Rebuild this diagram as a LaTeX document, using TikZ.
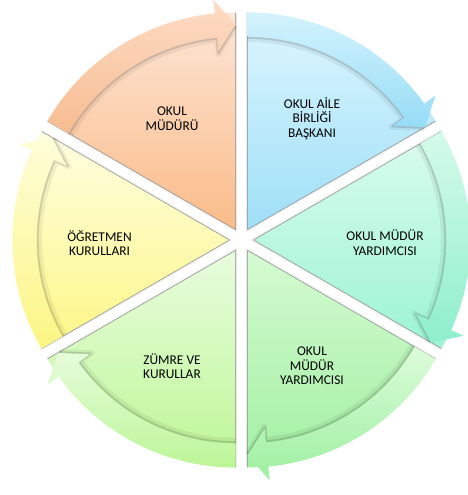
\documentclass[tikz,border=0pt]{standalone}
\usepackage{fontspec}
\setmainfont{Carlito}

\definecolor{orangeT}{HTML}{FDE6D6}
\definecolor{orangeB}{HTML}{FABB88}
\definecolor{orangeBandT}{HTML}{FDDCC6}
\definecolor{orangeBandB}{HTML}{F7BC90}
\definecolor{blueT}{HTML}{DDF6FE}
\definecolor{blueB}{HTML}{9EDFF7}
\definecolor{blueBandT}{HTML}{D3F3FD}
\definecolor{blueBandB}{HTML}{96DCF6}
\definecolor{tealT}{HTML}{DAFCEE}
\definecolor{tealB}{HTML}{9CF4D4}
\definecolor{tealBandT}{HTML}{D5FBEA}
\definecolor{tealBandB}{HTML}{8EEFCD}
\definecolor{greenT}{HTML}{D5FAD2}
\definecolor{greenB}{HTML}{A2F0A2}
\definecolor{greenBandT}{HTML}{DDFCDA}
\definecolor{greenBandB}{HTML}{9CEFA0}
\definecolor{limeT}{HTML}{E8FCDE}
\definecolor{limeB}{HTML}{BDF795}
\definecolor{limeBandT}{HTML}{E6FCDC}
\definecolor{limeBandB}{HTML}{BCF697}
\definecolor{yellowT}{HTML}{FEFEE2}
\definecolor{yellowB}{HTML}{FDF786}
\definecolor{yellowBandT}{HTML}{FEFDD8}
\definecolor{yellowBandB}{HTML}{FCF684}

\tikzset{
  gapshade/.style={draw=black, opacity=0.08, line width=3pt},
  rim/.style={draw=black!45, line width=0.5pt},
  bandshade/.style={draw=black, opacity=0.13, line width=2.4pt, line join=round},
  bandhalo/.style={draw=black, opacity=0.06, line width=5pt, line join=round},
  piecetext/.style={align=center, text=black, inner sep=0pt, font=\fontsize{13.4}{14.6}\selectfont}
}

\begin{document}
\begin{tikzpicture}[x=1pt,y=1pt]
\useasboundingbox (-241.5,-255) rectangle (225.5,240);

% top left
\begin{scope}[shift={(120:12)}]
\draw [gapshade] (150:217) -- (0,0) -- (90:217);
\path [top color=orangeT,bottom color=orangeB] (0,0) -- (150:217) arc[start angle=150,end angle=90,radius=217] -- cycle;
\draw [rim] (150:217) -- (0,0) -- (90:217);
\draw [bandhalo] (150:190) arc[start angle=150,end angle=95.5,radius=190] -- (95.5:176) -- (90:203);
\draw [bandshade] (150:192) arc[start angle=150,end angle=95.5,radius=192] -- (95.5:178) -- (90:204);
\path [top color=orangeBandT,bottom color=orangeBandB] (150:217) arc[start angle=150,end angle=95.5,radius=217] -- (95.5:231) -- (90:205) -- (95.5:179) -- (95.5:193) arc[start angle=95.5,end angle=150,radius=193] -- cycle;
\end{scope}

% top right
\begin{scope}[shift={(60:12)}]
\draw [gapshade] (90:217) -- (0,0) -- (30:217);
\path [top color=blueT,bottom color=blueB] (0,0) -- (90:217) arc[start angle=90,end angle=30,radius=217] -- cycle;
\draw [rim] (90:217) -- (0,0) -- (30:217);
\draw [bandhalo] (90:190) arc[start angle=90,end angle=35.5,radius=190] -- (35.5:176) -- (30:203);
\draw [bandshade] (90:192) arc[start angle=90,end angle=35.5,radius=192] -- (35.5:178) -- (30:204);
\path [top color=blueBandT,bottom color=blueBandB] (90:217) arc[start angle=90,end angle=35.5,radius=217] -- (35.5:231) -- (30:205) -- (35.5:179) -- (35.5:193) arc[start angle=35.5,end angle=90,radius=193] -- cycle;
\end{scope}

% right
\begin{scope}[shift={(0:12)}]
\draw [gapshade] (30:217) -- (0,0) -- (-30:217);
\path [top color=tealT,bottom color=tealB] (0,0) -- (30:217) arc[start angle=30,end angle=-30,radius=217] -- cycle;
\draw [rim] (30:217) -- (0,0) -- (-30:217);
\draw [bandhalo] (30:190) arc[start angle=30,end angle=-24.5,radius=190] -- (-24.5:176) -- (-30:203);
\draw [bandshade] (30:192) arc[start angle=30,end angle=-24.5,radius=192] -- (-24.5:178) -- (-30:204);
\path [top color=tealBandT,bottom color=tealBandB] (30:217) arc[start angle=30,end angle=-24.5,radius=217] -- (-24.5:231) -- (-30:205) -- (-24.5:179) -- (-24.5:193) arc[start angle=-24.5,end angle=30,radius=193] -- cycle;
\end{scope}

% bottom right
\begin{scope}[shift={(-60:12)}]
\draw [gapshade] (-30:217) -- (0,0) -- (-90:217);
\path [top color=greenT,bottom color=greenB] (0,0) -- (-30:217) arc[start angle=-30,end angle=-90,radius=217] -- cycle;
\draw [rim] (-30:217) -- (0,0) -- (-90:217);
\draw [bandhalo] (-30:190) arc[start angle=-30,end angle=-84.5,radius=190] -- (-84.5:176) -- (-90:203);
\draw [bandshade] (-30:192) arc[start angle=-30,end angle=-84.5,radius=192] -- (-84.5:178) -- (-90:204);
\path [top color=greenBandT,bottom color=greenBandB] (-30:217) arc[start angle=-30,end angle=-84.5,radius=217] -- (-84.5:231) -- (-90:205) -- (-84.5:179) -- (-84.5:193) arc[start angle=-84.5,end angle=-30,radius=193] -- cycle;
\end{scope}

% bottom left
\begin{scope}[shift={(-120:12)}]
\draw [gapshade] (-90:217) -- (0,0) -- (-150:217);
\path [top color=limeT,bottom color=limeB] (0,0) -- (-90:217) arc[start angle=-90,end angle=-150,radius=217] -- cycle;
\draw [rim] (-90:217) -- (0,0) -- (-150:217);
\draw [bandhalo] (-90:190) arc[start angle=-90,end angle=-144.5,radius=190] -- (-144.5:176) -- (-150:203);
\draw [bandshade] (-90:192) arc[start angle=-90,end angle=-144.5,radius=192] -- (-144.5:178) -- (-150:204);
\path [top color=limeBandT,bottom color=limeBandB] (-90:217) arc[start angle=-90,end angle=-144.5,radius=217] -- (-144.5:231) -- (-150:205) -- (-144.5:179) -- (-144.5:193) arc[start angle=-144.5,end angle=-90,radius=193] -- cycle;
\end{scope}

% left
\begin{scope}[shift={(180:12)}]
\draw [gapshade] (210:217) -- (0,0) -- (150:217);
\path [top color=yellowT,bottom color=yellowB] (0,0) -- (210:217) arc[start angle=210,end angle=150,radius=217] -- cycle;
\draw [rim] (210:217) -- (0,0) -- (150:217);
\draw [bandhalo] (210:190) arc[start angle=210,end angle=155.5,radius=190] -- (155.5:176) -- (150:203);
\draw [bandshade] (210:192) arc[start angle=210,end angle=155.5,radius=192] -- (155.5:178) -- (150:204);
\path [top color=yellowBandT,bottom color=yellowBandB] (210:217) arc[start angle=210,end angle=155.5,radius=217] -- (155.5:231) -- (150:205) -- (155.5:179) -- (155.5:193) arc[start angle=155.5,end angle=210,radius=193] -- cycle;
\end{scope}

\node (mudur) at (-69.5,121.5) [piecetext] {OKUL\\MÜDÜRÜ};
\node (aile) at (70.5,121.5) [piecetext] {OKUL AİLE\\BİRLİĞİ\\BAŞKANI};
\node (yard1) at (143.5,-2.5) [piecetext] {OKUL MÜDÜR\\YARDIMCISI};
\node (yard2) at (70.5,-126) [piecetext] {OKUL\\MÜDÜR\\YARDIMCISI};
\node (zumre) at (-69.5,-126) [piecetext] {ZÜMRE VE\\KURULLAR};
\node (ogretmen) at (-142,-3) [piecetext] {ÖĞRETMEN\\KURULLARI};

\end{tikzpicture}
\end{document}
